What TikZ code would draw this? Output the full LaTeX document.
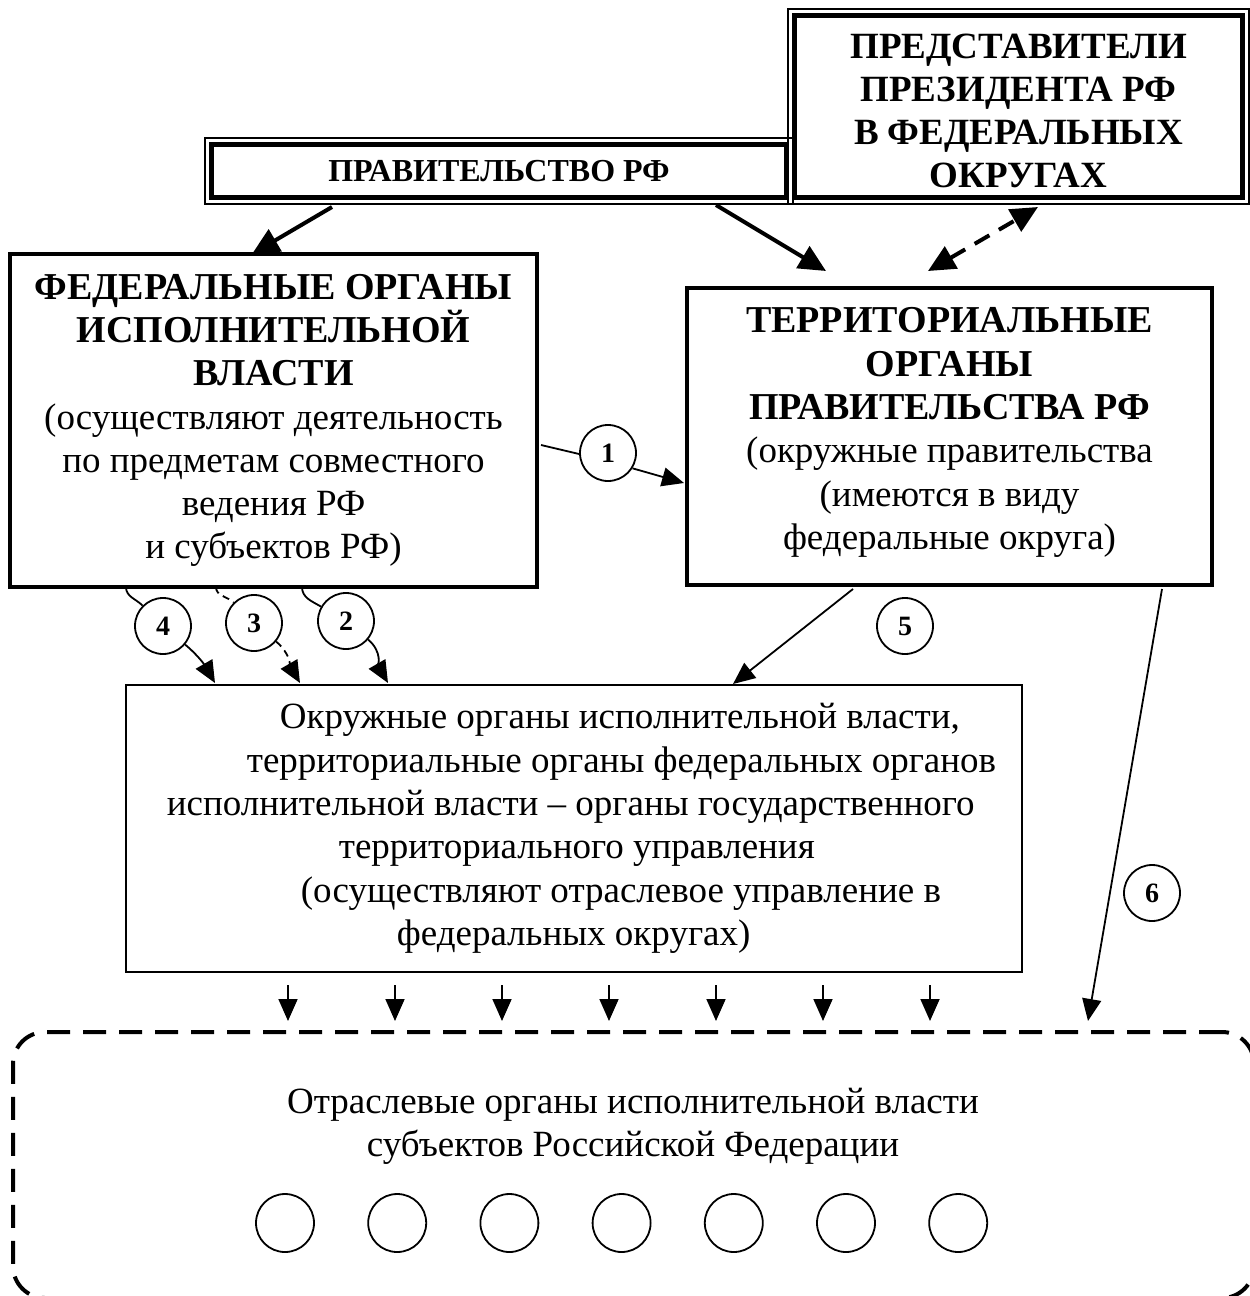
\documentclass[tikz,border=0pt]{standalone}
\usepackage{fontspec}
\setmainfont{Liberation Serif}
\usetikzlibrary{arrows.meta}

\begin{document}
\begin{tikzpicture}[x=1pt,y=1pt]
  \tikzset{box/.style = {shape=rectangle,draw,line width=3.5pt,inner sep=0pt,align=center,font=\fontsize{37}{43.3}\selectfont}}
  \tikzset{dblbox/.style = {shape=rectangle,draw,fill=white,line width=5pt,inner sep=0pt,outer sep=0pt,align=center}}
  \tikzset{num/.style = {shape=circle,draw,line width=1.8pt,fill=white,minimum size=56pt,inner sep=0pt,font=\fontsize{28}{28}\selectfont\bfseries}}
  \tikzset{subj/.style = {shape=circle,draw,line width=1.8pt,minimum size=58pt,inner sep=0pt}}
  \tikzset{edge/.style = {line width=1.8pt,-{Triangle[length=22pt,width=19pt]}}}
  \tikzset{bigedge/.style = {line width=4pt,-{Triangle[length=27pt,width=25pt]}}}
  \useasboundingbox (0,0) rectangle (1250,-1296);

  % top
  \node[dblbox,minimum width=575pt,minimum height=53pt,font=\fontsize{32}{36}\selectfont\bfseries] (gov) at (499,-171) {ПРАВИТЕЛЬСТВО РФ};
  \draw[line width=1.5pt] ([shift={(-6.5,6.5)}]gov.north west) rectangle ([shift={(6.5,-6.5)}]gov.south east);
  \node[dblbox,minimum width=448pt,minimum height=182pt,font=\fontsize{37}{43}\selectfont\bfseries] (rep) at (1018.5,-106.5) {\rule{0pt}{34pt}ПРЕДСТАВИТЕЛИ\\ПРЕЗИДЕНТА РФ\\В ФЕДЕРАЛЬНЫХ\\ОКРУГАХ};
  \draw[line width=1.5pt] ([shift={(-6.5,6.5)}]rep.north west) rectangle ([shift={(6.5,-6.5)}]rep.south east);

  % boxes
  \node[box,minimum width=527pt,minimum height=333pt] (fed) at (273.5,-420.5)
    {{\bfseries\fontsize{38}{43.3}\selectfont ФЕДЕРАЛЬНЫЕ ОРГАНЫ}\\
     {\bfseries\fontsize{38}{43.3}\selectfont ИСПОЛНИТЕЛЬНОЙ}\\
     {\bfseries\fontsize{38}{43.3}\selectfont ВЛАСТИ}\\
     (осуществляют деятельность\\по предметам совместного\\ведения РФ\\и субъектов РФ)};
  \node[box,minimum width=525pt,minimum height=297pt] (terr) at (949.5,-436.5)
    {{\bfseries\fontsize{38}{43.3}\selectfont ТЕРРИТОРИАЛЬНЫЕ}\\
     {\bfseries\fontsize{38}{43.3}\selectfont ОРГАНЫ}\\
     {\bfseries\fontsize{38}{43.3}\selectfont ПРАВИТЕЛЬСТВА РФ}\\
     (окружные правительства\\(имеются в виду\\федеральные округа)\rule[-16pt]{0pt}{16pt}};
  \node[box,line width=2.5pt,minimum width=896pt,minimum height=287pt,align=left] (mid) at (574,-828.5)
    {\hspace*{128pt}Окружные органы исполнительной власти,\\
     \hspace*{95pt}территориальные органы федеральных органов\\
     \hspace*{15pt}исполнительной власти – органы государственного\\
     \hspace*{187pt}территориального управления\\
     \hspace*{149pt}(осуществляют отраслевое управление в\\
     \hspace*{245pt}федеральных округах)};
  \node[draw,line width=4pt,dash pattern=on 23pt off 13pt,rounded corners=32pt,minimum width=1241pt,minimum height=266pt] (otr) at (633.5,-1165) {};
  \node[font=\fontsize{37}{43}\selectfont,align=center] (otrtxt) at (633,-1126) {Отраслевые органы исполнительной власти\\субъектов Российской Федерации};
  \foreach \i in {0,...,6}
    \node[subj] (o\i) at ({285+112.2*\i},-1223) {};

  % connectors
  \coordinate (g1) at (332,-207);  \coordinate (f1) at (252,-254);
  \coordinate (g2) at (716,-205);  \coordinate (r1) at (826,-271);
  \coordinate (r2) at (928,-271);  \coordinate (p1) at (1038,-207);
  \coordinate (s1) at (541,-445);  \coordinate (t1) at (684,-483);
  \coordinate (s2) at (302,-587);  \coordinate (t2) at (388,-683);
  \coordinate (s3) at (216,-587);  \coordinate (t3) at (300,-683);
  \coordinate (s4) at (126,-587);  \coordinate (t4) at (215,-683);
  \coordinate (s5) at (853,-589);  \coordinate (t5) at (733,-684);
  \coordinate (s6) at (1162,-589); \coordinate (t6) at (1088,-1021);

  \node[num] (c1) at (608,-453) {1};
  \node[num] (c2) at (346,-621) {2};
  \node[num] (c3) at (254,-623) {3};
  \node[num] (c4) at (163,-626) {4};
  \node[num] (c5) at (905,-626) {5};
  \node[num] (c6) at (1152,-893) {6};

  \foreach \from/\to in {g1/f1,g2/r1}
    \path[bigedge] (\from) edge (\to);
  \draw[line width=4pt,dash pattern=on 17pt off 11pt,{Triangle[length=27pt,width=25pt]}-{Triangle[length=27pt,width=25pt]}] (r2) -- (p1);

  \draw[line width=1.8pt] (s1) -- (c1.182);
  \draw[edge] (c1.-32) -- (t1);
  \foreach \from/\to in {s5/t5,s6/t6}
    \path[edge] (\from) edge (\to);

  \draw[line width=1.8pt] (s4) to[out=-90,in=135] (c4);
  \draw[edge] (c4) to[out=-40,in=120] (t4);
  \draw[line width=1.8pt,dash pattern=on 7pt off 5pt] (s3) to[out=-90,in=135] (c3);
  \draw[edge,dash pattern=on 7pt off 5pt] (c3) to[out=-40,in=120] (t3);
  \draw[line width=1.8pt] (s2) to[out=-90,in=150] (c2);
  \draw[edge] (c2) to[out=-40,in=120] (t2);

  \foreach \x in {288,395,...,930}
    \draw[edge] (\x,-985) -- (\x,-1021);
\end{tikzpicture}
\end{document}
